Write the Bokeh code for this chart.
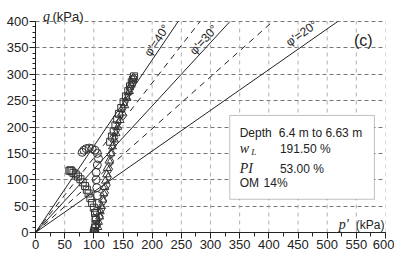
from bokeh.plotting import figure
from bokeh.models import Range1d, Label, BoxAnnotation, FixedTicker
from bokeh.embed import file_html
from bokeh.resources import INLINE
import numpy as np

# failure lines: friction angle (deg) and label
phi_solid = [40, 30, 20]
phi_dashed = [35, 25]
line_labels = ["\u03c6'=40\u00b0", "\u03c6'=30\u00b0", "\u03c6'=20\u00b0"]
label_at = [218, 297, 467]  # p' position of each line label

# axis ticks
x_ticks = list(range(0, 601, 50))
y_ticks = list(range(0, 401, 50))

# stress paths (p', q) in kPa
sq_p = [100, 101, 102, 103, 103, 102, 100, 97, 94, 91, 88, 85, 81, 77, 73, 69, 65, 62, 60, 58]
sq_q = [0, 3, 8, 16, 27, 37, 47, 56, 65, 74, 81, 88, 95, 101, 106, 110, 113, 116, 118, 117]
ci_p = [100, 102, 104, 105, 106, 106, 105, 104, 104, 106, 108, 106, 102, 97, 92, 87, 83, 80]
ci_q = [0, 10, 25, 40, 55, 70, 85, 100, 114, 128, 140, 150, 156, 159, 160, 159, 156, 152]
tr_p = [105, 107, 108, 110, 111, 113, 115, 117, 119, 120, 122, 123, 126, 129, 132, 135, 138, 141, 145, 149, 153, 157, 161, 164, 167]
tr_q = [0, 10, 20, 30, 40, 50, 62, 74, 86, 98, 110, 122, 136, 150, 163, 176, 188, 200, 213, 227, 241, 255, 268, 280, 291]
di_p = [103, 107, 111, 114, 117, 120, 123, 125, 127, 129, 131, 133, 136, 139, 142, 146, 150, 154, 158, 162, 165, 168]
di_q = [0, 15, 30, 45, 60, 75, 90, 105, 120, 135, 150, 165, 180, 194, 208, 222, 235, 248, 261, 274, 285, 294]
# extra readings in the dense upper part of the paths
up_p = [128, 131, 134, 137, 140, 143, 147, 151, 155, 159, 162, 165, 167, 169]
up_q = [172, 182, 192, 203, 214, 225, 236, 247, 258, 268, 277, 285, 290, 296]

def M(phi):
    s = np.sin(np.radians(phi))
    return 6 * s / (3 - s)

p = figure(width=394, height=256, output_backend="svg", toolbar_location=None,
           x_range=Range1d(0, 600), y_range=Range1d(0, 419),
           min_border_left=35, min_border_right=9, min_border_top=11, min_border_bottom=24)
p.outline_line_color = None
p.background_fill_color = "white"

font = "Liberation Sans"
ink = "#222222"
for ax in (p.xaxis[0], p.yaxis[0]):
    ax.axis_line_color = ink
    ax.major_tick_line_color = ink
    ax.minor_tick_line_color = ink
    ax.major_label_text_font = font
    ax.major_label_text_font_size = "13px"
    ax.major_label_text_color = ink
    ax.major_tick_in = 0
    ax.minor_tick_in = 0
    ax.major_label_standoff = 1
p.yaxis.bounds = (0, 400)
p.xaxis.ticker = FixedTicker(ticks=x_ticks, minor_ticks=list(range(0, 601, 25)))
p.yaxis.ticker = FixedTicker(ticks=y_ticks, minor_ticks=list(range(0, 401, 10)))
p.xaxis.major_tick_out = 6
p.xaxis.minor_tick_out = 4
p.yaxis.major_tick_out = 6
p.yaxis.minor_tick_out = 3

# grid: horizontal dashed lines through the axis, vertical ones drawn only up to q = 400
p.xgrid.visible = False
p.ygrid.ticker = FixedTicker(ticks=y_ticks[1:])
p.ygrid.grid_line_color = "#777777"
p.ygrid.grid_line_dash = "4 3"
vx = x_ticks[1:]
p.segment(x0=vx, y0=[y_ticks[0]] * len(vx), x1=vx, y1=[y_ticks[-1]] * len(vx),
          line_color="#b0b0b0", line_width=1, line_dash="4 4")

for phi in phi_solid:
    m = M(phi)
    pe = min(600, 400 / m)
    p.line([0, pe], [0, m * pe], line_color=ink, line_width=1)
for phi in phi_dashed:
    m = M(phi)
    pe = min(600, 400 / m)
    p.line([0, pe], [0, m * pe], line_color=ink, line_width=1, line_dash="6 5")

kw = dict(fill_color=None, line_color="#333333", line_width=1)
p.scatter(sq_p, sq_q, marker="square", size=7, **kw)
p.scatter(ci_p, ci_q, marker="circle", size=8, **kw)
p.scatter(tr_p, tr_q, marker="triangle", size=8, **kw)
p.scatter(di_p, di_q, marker="diamond", size=9, **kw)
p.scatter(up_p, up_q, marker="square", size=7, **kw)

# line labels (rotated along each line)
sx = 348 / 600.0
sy = 221 / 419.0
offsets = [0, 0, 4]
for phi, xl, txt, off in zip(phi_solid, label_at, line_labels, offsets):
    m = M(phi)
    ang = np.arctan(m * sy / sx)
    p.add_layout(Label(x=xl, y=m * xl, text=txt, angle=ang, text_align="center",
                       text_baseline="bottom", text_font=font, text_font_size="12px",
                       text_color=ink, x_offset=-off * np.sin(ang), y_offset=off * np.cos(ang)))

p.add_layout(Label(x=562, y=364, text="(c)", text_align="center", text_baseline="middle",
                   text_font=font, text_font_size="16px", text_color=ink))

# info box
p.add_layout(BoxAnnotation(left=333, right=581, bottom=63, top=222, fill_color="white",
                           fill_alpha=1, line_color="#333333", line_width=1))
txt_kw = dict(text_font=font, text_font_size="12px", text_color=ink, text_baseline="middle")
serif_kw = dict(text_font="Liberation Serif", text_font_style="italic", text_font_size="14px",
                text_color=ink, text_baseline="middle")
p.add_layout(Label(x=350, y=188, text="Depth", **txt_kw))
p.add_layout(Label(x=417, y=188, text="6.4 m to 6.63 m", **txt_kw))
p.add_layout(Label(x=350, y=160, text="w", **serif_kw))
p.add_layout(Label(x=370, y=153, text="L", text_font="Liberation Serif", text_font_style="italic",
                   text_font_size="9px", text_color=ink, text_baseline="middle"))
p.add_layout(Label(x=419, y=159, text="191.50 %", **txt_kw))
p.add_layout(Label(x=350, y=121, text="PI", **serif_kw))
p.add_layout(Label(x=419, y=121, text="53.00 %", **txt_kw))
p.add_layout(Label(x=350, y=93, text="OM", **txt_kw))
p.add_layout(Label(x=391, y=93, text="14%", **txt_kw))

# axis titles
p.add_layout(Label(x=600, y=15, text="(kPa)", text_align="right", text_baseline="alphabetic",
                   text_font=font, text_font_size="12px", text_color=ink, x_offset=-1))
p.add_layout(Label(x=537, y=15, text="p'", text_align="right", text_baseline="alphabetic",
                   text_font="Liberation Serif", text_font_style="italic",
                   text_font_size="14px", text_color=ink))
p.add_layout(Label(x=13, y=409, text="q", text_align="left", text_baseline="alphabetic",
                   text_font="Liberation Serif", text_font_style="italic",
                   text_font_size="14px", text_color=ink))
p.add_layout(Label(x=29, y=409, text="(kPa)", text_align="left", text_baseline="alphabetic",
                   text_font=font, text_font_size="13px", text_color=ink))

open("out.html", "w").write(file_html(p, INLINE))
